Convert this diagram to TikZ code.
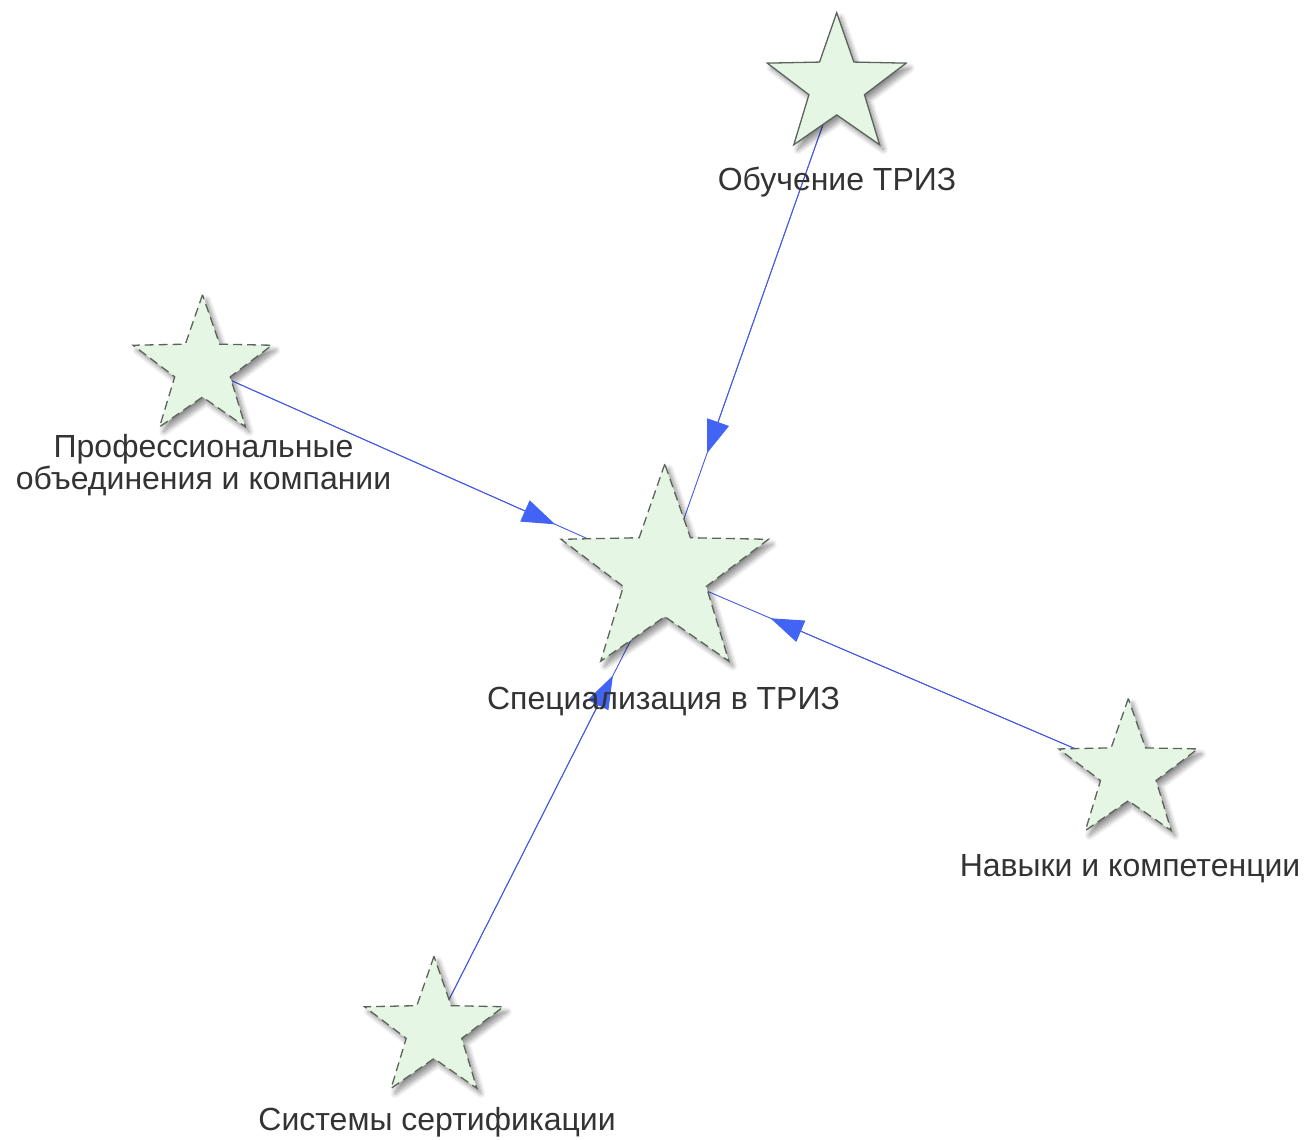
\documentclass[tikz,border=0pt]{standalone}
\usepackage{fontspec}
\setmainfont{Liberation Sans}
\usetikzlibrary{shapes.geometric,arrows.meta,backgrounds,shadows.blur}

\definecolor{starfill}{RGB}{230,246,228}
\definecolor{staredge}{RGB}{90,100,90}
\definecolor{linkblue}{RGB}{70,90,225}
\definecolor{tipblue}{RGB}{65,100,245}
\definecolor{labelgray}{RGB}{51,51,51}

\begin{document}
\begin{tikzpicture}[x=1pt,y=-1pt,
  starnode/.style={star, star points=5, star point ratio=2.5,
    draw=staredge, fill=starfill, line width=1.3pt, inner sep=0pt,
    minimum size=#1,
    blur shadow={shadow xshift=4pt, shadow yshift=-5pt,
      shadow blur radius=5pt, shadow blur steps=10, shadow opacity=45}},
  dashedstar/.style={starnode=#1, dash pattern=on 9pt off 5pt},
  caption/.style={anchor=base, text=labelgray, inner sep=0pt,
    font=\fontsize{32}{32}\selectfont, align=center},
  link/.style={draw=linkblue, line width=0.9pt},
  tiplink/.style={draw=linkblue, line width=0.9pt,
    -{Triangle[length=33pt,width=23pt,fill=tipblue,color=tipblue]},
    shorten >=#1}
]
\useasboundingbox (0,0) rectangle (1307,1140);

% stars
\node[starnode=146] (obuch) at (836.7,85.7) {};
\node[dashedstar=218] (spec) at (664.8,573) {};
\node[dashedstar=146] (prof) at (202.5,367.8) {};
\node[dashedstar=146] (navyk) at (1128.3,771.5) {};
\node[dashedstar=146] (sist) at (434,1029.3) {};

% connectors, under the stars
\begin{scope}[on background layer]
  \draw[link] (obuch.center) -- (spec.center);
  \draw[tiplink=127pt] (obuch.center) -- (spec.center);
  \draw[link] (prof.center) -- (spec.center);
  \draw[tiplink=120pt] (prof.center) -- (spec.center);
  \draw[link] (navyk.center) -- (spec.center);
  \draw[tiplink=115pt] (navyk.center) -- (spec.center);
  \draw[link] (sist.center) -- (spec.center);
  \draw[tiplink=115pt] (sist.center) -- (spec.center);
\end{scope}

% captions
\node[caption] (obuchcap) at (837,190) {Обучение ТРИЗ};
\node[caption] (profcap1) at (203.5,457) {Профессиональные};
\node[caption] (profcap2) at (203.5,489) {объединения и компании};
\node[caption] (speccap) at (663.5,709) {Специализация в ТРИЗ};
\node[caption] (navykcap) at (1130,876) {Навыки и компетенции};
\node[caption] (sistcap) at (437,1130) {Системы сертификации};
\end{tikzpicture}
\end{document}
